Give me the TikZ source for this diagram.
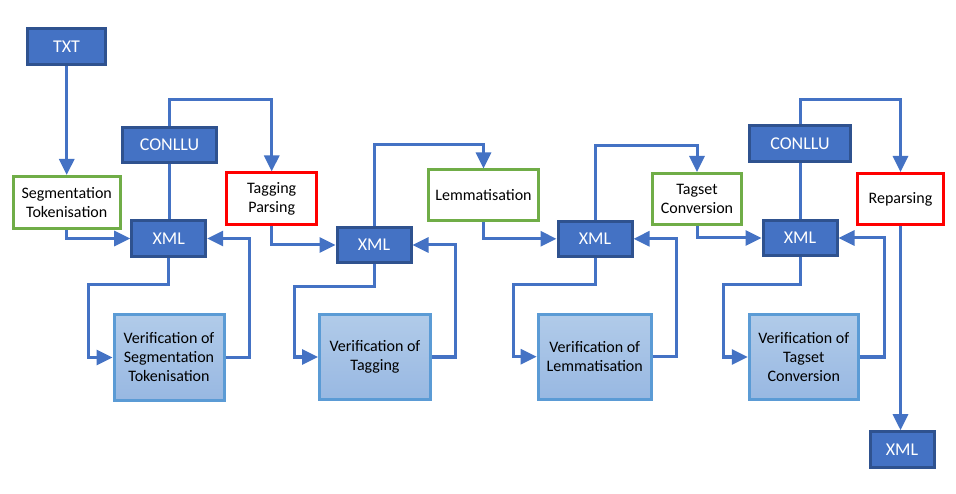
\documentclass[tikz,border=0pt]{standalone}
\usepackage{fontspec}
\setmainfont{Carlito}
\usetikzlibrary{arrows.meta,shadows}
\definecolor{dark}{HTML}{4472C4}
\definecolor{darkb}{HTML}{2F528F}
\definecolor{grn}{HTML}{70AD47}
\definecolor{rd}{HTML}{FF0000}
\definecolor{verb}{HTML}{5B9BD5}
\definecolor{vtop}{HTML}{B1CBE9}
\definecolor{vbot}{HTML}{98B8E2}
\begin{document}
\begin{tikzpicture}[x=1pt,y=-1pt,
  darkbox/.style={draw=darkb,fill=dark,line width=3pt,text=white,inner sep=0pt,
    font=\fontsize{18}{21}\selectfont},
  greenbox/.style={draw=grn,fill=white,line width=3pt,inner sep=0pt,align=center,
    font=\fontsize{16}{19}\selectfont},
  redbox/.style={draw=rd,fill=white,line width=3pt,inner sep=0pt,align=center,
    font=\fontsize{16}{19}\selectfont},
  verbox/.style={draw=verb,top color=vtop,bottom color=vbot,line width=3pt,inner sep=0pt,
    align=center,font=\fontsize{16}{19}\selectfont,
    drop shadow={shadow xshift=1.5pt,shadow yshift=-1.5pt,opacity=0.25,fill=black}},
  conn/.style={draw=dark,line width=3pt,-{Triangle[length=16pt,width=15pt]}},
  plain/.style={draw=dark,line width=3pt}]
\fill[white] (0,0) rectangle (956,494);
\useasboundingbox (0,0) rectangle (956,494);

% nodes
\node[darkbox,minimum width=78pt,minimum height=36pt] (txt) at (66.5,46.5) {TXT};
\node[greenbox,minimum width=107pt,minimum height=52pt] (seg) at (66.7,202.5) {Segmentation\\Tokenisation};
\node[darkbox,minimum width=94pt,minimum height=35pt] (con1) at (169.5,145) {CONLLU};
\node[darkbox,minimum width=74pt,minimum height=36pt] (xml1) at (168.7,238.5) {XML};
\node[redbox,minimum width=90pt,minimum height=52pt] (tag) at (271.7,199) {Tagging\\Parsing};
\node[verbox,minimum width=110pt,minimum height=85pt] (ver1) at (169,357.5) {Verification of\\Segmentation\\Tokenisation};

\node[darkbox,minimum width=74pt,minimum height=35pt] (xml2) at (374,245) {XML};
\node[greenbox,minimum width=110pt,minimum height=51pt] (lem) at (483.5,195.5) {Lemmatisation};
\node[verbox,minimum width=111pt,minimum height=85pt] (ver2) at (375,357) {Verification of\\Tagging};

\node[darkbox,minimum width=74pt,minimum height=35pt] (xml3) at (595,238.8) {XML};
\node[greenbox,minimum width=89pt,minimum height=51pt] (tsc) at (697,199) {Tagset\\Conversion};
\node[verbox,minimum width=113pt,minimum height=85pt] (ver3) at (594.7,356.7) {Verification of\\Lemmatisation};

\node[darkbox,minimum width=101pt,minimum height=36pt] (con2) at (800,143.5) {CONLLU};
\node[darkbox,minimum width=74pt,minimum height=35pt] (xml4) at (800,238) {XML};
\node[redbox,minimum width=86pt,minimum height=51pt] (rep) at (900.5,199) {Reparsing};
\node[verbox,minimum width=109pt,minimum height=85pt] (ver4) at (803.8,357) {Verification of\\Tagset\\Conversion};
\node[darkbox,minimum width=64pt,minimum height=36pt] (xmlf) at (902,449.7) {XML};

% connectors: block 1
\draw[conn] (txt.south -| seg.north) -- (seg.north);
\draw[conn] (seg.south) |- (xml1.west);
\draw[plain] (con1.south) -- (con1.south |- xml1.north);
\draw[conn] (con1.north) -- ++(0,-26) -| (tag.north);
\draw[conn] (xml1.south) -- ++(0,27) -| ([xshift=-24pt]ver1.west) -- (ver1.west);
\draw[conn] (ver1.east) -- ++(23.5,0) |- (xml1.east);

% block 2
\draw[conn] (tag.south) |- (xml2.west);
\draw[conn] (xml2.north) -- ++(0,-81) -| (lem.north);
\draw[conn] (xml2.south) -- ++(0,23) -| ([xshift=-24pt]ver2.west) -- (ver2.west);
\draw[conn] (ver2.east) -- ++(23.5,0) |- (xml2.east);

% block 3
\draw[conn] (lem.south) |- (xml3.west);
\draw[conn] (xml3.north) -- ++(0,-74) -| (tsc.north);
\draw[conn] (xml3.south) -- ++(0,26.5) -| ([xshift=-23.5pt]ver3.west) -- (ver3.west);
\draw[conn] (ver3.east) -- ++(23.5,0) |- (xml3.east);

% block 4
\draw[conn] (tsc.south) |- (xml4.west);
\draw[plain] (con2.south) -- (con2.south |- xml4.north);
\draw[conn] (con2.north) -- ++(0,-24) -| (rep.north);
\draw[conn] (xml4.south) -- ++(0,27.5) -| ([xshift=-24.5pt]ver4.west) -- (ver4.west);
\draw[conn] (ver4.east) -- ++(25,0) |- (xml4.east);
\draw[conn] (rep.south) -- (rep.south |- xmlf.north);
\end{tikzpicture}
\end{document}
